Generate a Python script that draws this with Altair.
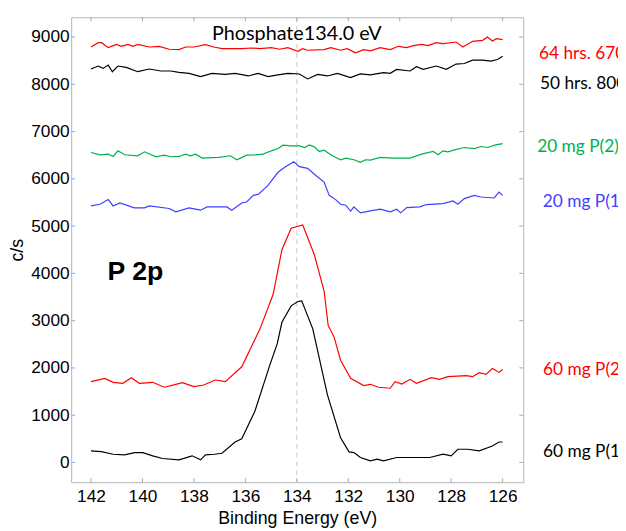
import altair as alt
import pandas as pd

# ---------------- data ----------------
series_keys = ["64h", "50h", "20P2", "20P1", "60P2", "60P1"]
series_colors = ["#ff0000", "#000000", "#00b050", "#3f3fff", "#ff0000", "#000000"]

e_64h = [142.0, 141.72, 141.59, 141.33, 141.01, 140.82, 140.56, 140.37, 140.18, 139.73, 139.35, 138.96,
         138.58, 138.32, 138.0, 137.55, 137.23, 136.91, 136.14, 135.76, 135.43, 134.99, 134.67, 134.35,
         133.96, 133.77, 133.58, 132.94, 132.68, 132.3, 132.04, 131.72, 131.4, 131.14, 130.76, 130.37,
         130.05, 129.73, 129.47, 129.15, 128.9, 128.58, 128.32, 127.81, 127.55, 127.17, 126.78, 126.59,
         126.4, 126.24, 126.0]
v_64h = [8790, 8881, 8881, 8776, 8846, 8804, 8846, 8804, 8846, 8790, 8804, 8742,
         8734, 8790, 8790, 8839, 8790, 8755, 8755, 8769, 8755, 8776, 8742, 8776,
         8700, 8755, 8721, 8734, 8776, 8721, 8755, 8665, 8734, 8707, 8776, 8734,
         8804, 8776, 8818, 8846, 8818, 8881, 8860, 8895, 8790, 8909, 8930, 9000,
         8916, 8965, 8944]

e_50h = [142.0, 141.72, 141.53, 141.33, 141.17, 140.95, 140.63, 140.18, 139.73, 139.28, 138.9, 138.58,
         138.19, 137.74, 137.3, 136.78, 136.4, 135.88, 135.5, 135.12, 134.73, 134.35, 133.9, 133.58,
         133.19, 132.81, 132.42, 131.91, 131.53, 131.14, 130.63, 130.37, 130.12, 129.6, 129.35, 129.09,
         128.58, 128.19, 127.81, 127.49, 127.17, 126.78, 126.46, 126.2, 126.0]
v_50h = [8324, 8387, 8337, 8407, 8267, 8387, 8358, 8267, 8324, 8282, 8282, 8253,
         8232, 8163, 8232, 8211, 8232, 8177, 8232, 8163, 8198, 8232, 8219, 8114,
         8211, 8177, 8232, 8142, 8219, 8198, 8246, 8232, 8316, 8282, 8372, 8316,
         8387, 8316, 8428, 8441, 8512, 8512, 8491, 8525, 8595]

e_20P2 = [142.0, 141.65, 141.33, 141.14, 140.95, 140.69, 140.18, 139.92, 139.47, 139.15, 138.9, 138.58,
          138.32, 138.13, 137.93, 137.68, 137.04, 136.59, 136.33, 135.95, 135.63, 135.31, 134.99, 134.73,
          134.54, 134.22, 133.9, 133.7, 133.51, 133.32, 133.13, 132.94, 132.62, 132.3, 132.1, 131.78,
          131.53, 131.33, 131.14, 130.76, 130.24, 129.6, 129.15, 128.7, 128.51, 128.32, 128.13, 127.87,
          127.49, 127.1, 126.85, 126.59, 126.27, 126.0]
v_20P2 = [6557, 6509, 6523, 6474, 6593, 6509, 6488, 6572, 6467, 6502, 6467, 6474,
          6523, 6488, 6523, 6439, 6453, 6488, 6404, 6502, 6509, 6523, 6593, 6641,
          6712, 6698, 6698, 6663, 6719, 6677, 6579, 6607, 6488, 6404, 6439, 6404,
          6348, 6404, 6397, 6453, 6439, 6439, 6523, 6579, 6509, 6593, 6572, 6614,
          6663, 6641, 6684, 6663, 6719, 6746]

e_20P1 = [142.0, 141.65, 141.33, 141.14, 140.88, 140.31, 139.92, 139.73, 138.96, 138.7, 138.19, 137.74,
          137.49, 137.04, 136.72, 136.53, 136.14, 135.95, 135.69, 135.5, 135.12, 134.73, 134.47, 134.12,
          133.9, 133.58, 133.26, 132.94, 132.74, 132.49, 132.3, 132.1, 131.91, 131.78, 131.53, 131.14,
          130.76, 130.37, 130.12, 129.96, 129.73, 129.22, 128.96, 128.32, 127.93, 127.74, 127.49, 127.1,
          126.85, 126.33, 126.14, 126.0]
v_20P1 = [5427, 5463, 5561, 5427, 5490, 5385, 5385, 5427, 5373, 5302, 5385, 5337,
          5406, 5406, 5406, 5337, 5490, 5511, 5651, 5672, 5860, 6139, 6244, 6363,
          6258, 6223, 6070, 5930, 5651, 5561, 5463, 5442, 5316, 5406, 5281, 5323,
          5358, 5302, 5358, 5281, 5393, 5406, 5456, 5477, 5532, 5463, 5582, 5651,
          5616, 5595, 5720, 5651]

e_60P2 = [142.0, 141.46, 141.14, 140.76, 140.43, 140.12, 139.6, 139.15, 138.7, 138.45, 138.0, 137.62,
          137.17, 136.78, 136.14, 135.43, 134.92, 134.58, 134.22, 133.77, 133.32, 132.94, 132.78, 132.55,
          132.3, 131.91, 131.4, 131.14, 130.82, 130.37, 130.18, 129.92, 129.6, 129.35, 128.77, 128.45,
          128.13, 127.42, 127.17, 126.91, 126.65, 126.4, 126.14, 126.0]
v_60P2 = [1710, 1779, 1695, 1674, 1793, 1674, 1695, 1591, 1653, 1689, 1605, 1639,
          1744, 1710, 2024, 2826, 3558, 4500, 4954, 5023, 4395, 3627, 2895, 2652,
          2162, 1779, 1626, 1653, 1591, 1570, 1710, 1660, 1758, 1674, 1793, 1758,
          1814, 1835, 1814, 1898, 1863, 1988, 1905, 1967]

e_60P1 = [142.0, 141.6, 141.14, 140.7, 140.3, 139.99, 139.6, 139.22, 138.58, 138.07, 137.74, 137.55,
          137.2, 136.91, 136.4, 136.14, 135.63, 135.05, 134.76, 134.58, 134.22, 133.96, 133.81, 133.38,
          132.81, 132.3, 131.97, 131.78, 131.53, 131.14, 130.88, 130.63, 130.12, 129.6, 128.83, 128.32,
          128.0, 127.74, 127.36, 126.91, 126.4, 126.14, 126.0]
v_60P1 = [245, 230, 174, 160, 209, 209, 140, 84, 56, 140, 56, 160,
          174, 195, 433, 502, 1082, 2058, 2512, 2966, 3313, 3405, 3418, 2826,
          1430, 523, 223, 209, 105, 35, 70, 35, 105, 105, 105, 174,
          140, 279, 279, 245, 349, 433, 433]

label_texts = ["64 hrs. 670 °C", "50 hrs. 800 °C", "20 mg P(2)", "20 mg P(1)", "60 mg P(2)", "60 mg P(1)"]
label_x = [124.59, 124.55, 124.66, 124.44, 124.43, 124.43]
label_y = [8531, 7904, 6567, 5397, 1860, 119]

x_ticks = [142, 140, 138, 136, 134, 132, 130, 128, 126]
y_ticks = [0, 1000, 2000, 3000, 4000, 5000, 6000, 7000, 8000, 9000]
peak_position = [134.0]
x_domain = [125.2, 142.77]
y_domain = [-418, 9418]

W, H = 458, 471

# ---------------- build tables ----------------
energies = [e_64h, e_50h, e_20P2, e_20P1, e_60P2, e_60P1]
values = [v_64h, v_50h, v_20P2, v_20P1, v_60P2, v_60P1]
frames = []
for k, e, v in zip(series_keys, energies, values):
    frames.append(pd.DataFrame({"series": k, "energy": e, "cps": v}))
df = pd.concat(frames, ignore_index=True)

labels_df = pd.DataFrame({"series": series_keys, "text": label_texts, "energy": label_x, "cps": label_y})

xscale = alt.Scale(domain=x_domain, reverse=True, nice=False, zero=False)
yscale = alt.Scale(domain=y_domain, nice=False, zero=False)
cscale = alt.Scale(domain=series_keys, range=series_colors)

X = alt.X("energy:Q", scale=xscale,
          axis=alt.Axis(values=x_ticks, format="d", title="Binding Energy (eV)", ticks=False,
                        domain=False, grid=False, labelPadding=6, titlePadding=4, labelFlush=False))
Y = alt.Y("cps:Q", scale=yscale,
          axis=alt.Axis(values=y_ticks, format="d", title="c/s", ticks=False, domain=False, grid=False,
                        labelPadding=2, titlePadding=4, labelFlush=False))

lines = alt.Chart(df).mark_line(strokeWidth=1.2, clip=True).encode(
    x=X, y=Y,
    color=alt.Color("series:N", scale=cscale, legend=None),
    detail="series:N",
)

peak = alt.Chart(pd.DataFrame({"energy": peak_position})).mark_rule(
    color="#c8c8c8", strokeDash=[5, 4], strokeWidth=1
).encode(x=alt.X("energy:Q", scale=xscale))

tick_color = "#a8a8a8"
xt = pd.DataFrame({"energy": x_ticks})
yt = pd.DataFrame({"cps": y_ticks})
xticks_bottom = alt.Chart(xt).mark_rule(color=tick_color).encode(
    x=alt.X("energy:Q", scale=xscale), y=alt.value(H), y2=alt.value(H - 4))
xticks_top = alt.Chart(xt).mark_rule(color=tick_color).encode(
    x=alt.X("energy:Q", scale=xscale), y=alt.value(0), y2=alt.value(4))
yticks_left = alt.Chart(yt).mark_rule(color=tick_color).encode(
    y=alt.Y("cps:Q", scale=yscale), x=alt.value(0), x2=alt.value(4))
yticks_right = alt.Chart(yt).mark_rule(color=tick_color).encode(
    y=alt.Y("cps:Q", scale=yscale), x=alt.value(W), x2=alt.value(W - 4))

series_labels = alt.Chart(labels_df).mark_text(
    align="left", baseline="alphabetic", font="Lato", fontSize=17.5
).encode(
    x=alt.X("energy:Q", scale=xscale), y=alt.Y("cps:Q", scale=yscale),
    text="text:N",
    color=alt.Color("series:N", scale=cscale, legend=None),
)

title_df = pd.DataFrame({"energy": [134.0], "cps": [8935], "text": ["Phosphate134.0 eV"]})
title_txt = alt.Chart(title_df).mark_text(
    align="center", baseline="alphabetic", font="Lato", fontSize=20, color="black"
).encode(x=alt.X("energy:Q", scale=xscale), y=alt.Y("cps:Q", scale=yscale), text="text:N")

p2p_df = pd.DataFrame({"energy": [141.36], "cps": [3865], "text": ["P 2p"]})
p2p_txt = alt.Chart(p2p_df).mark_text(
    align="left", baseline="alphabetic", font="Liberation Sans", fontSize=27,
    fontWeight="bold", color="black"
).encode(x=alt.X("energy:Q", scale=xscale), y=alt.Y("cps:Q", scale=yscale), text="text:N")

chart = alt.layer(
    peak, lines, xticks_bottom, xticks_top, yticks_left, yticks_right,
    series_labels, title_txt, p2p_txt
).properties(
    width=W, height=H,
    autosize=alt.AutoSizeParams(type="none"),
    padding={"left": 64, "top": 6, "right": 96, "bottom": 44},
).configure_view(
    stroke="#b4b4b4", strokeWidth=1
).configure_axis(
    labelFont="Liberation Sans", labelFontSize=17.5, labelColor="black",
    titleFont="Liberation Sans", titleFontSize=18, titleFontWeight="normal", titleColor="black",
)

chart.save("out.html", embed_options={"renderer": "svg", "actions": False})
